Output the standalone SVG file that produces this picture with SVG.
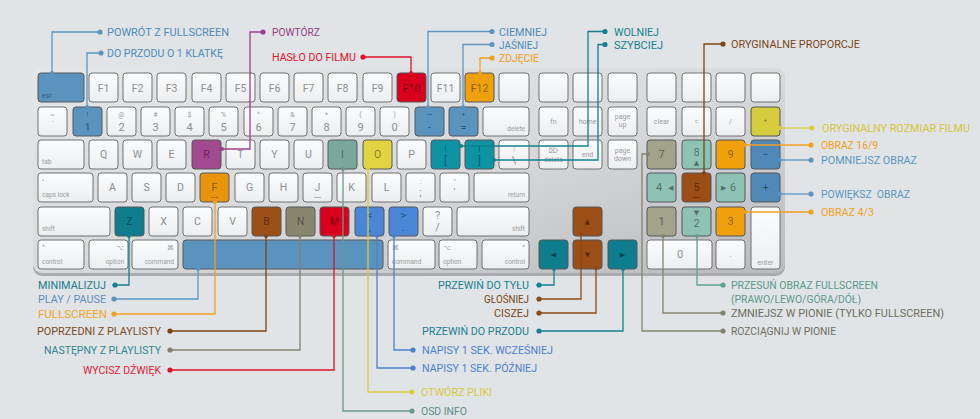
<svg xmlns="http://www.w3.org/2000/svg" width="980" height="419" viewBox="0 0 980 419">
<defs>
<linearGradient id="body" x1="0" y1="0" x2="1" y2="1">
<stop offset="0" stop-color="#e4e6e8"/><stop offset="0.5" stop-color="#d8dadc"/><stop offset="1" stop-color="#b9bbbe"/>
</linearGradient>
<linearGradient id="kg" x1="0" y1="0" x2="0" y2="1">
<stop offset="0" stop-color="#fbfcfd"/><stop offset="1" stop-color="#eceef0"/>
</linearGradient>
</defs>
<style>
.k{fill:url(#kg);stroke:#6f7173;stroke-width:1}
.c{stroke:#55575a;stroke-width:1}
.t{font-family:Roboto,"Liberation Sans",sans-serif;font-size:10.5px;fill:#8d8f92;text-anchor:middle}
.n{font-family:Roboto,"Liberation Sans",sans-serif;font-size:11px;fill:#8d8f92;text-anchor:middle}
.s{font-family:Roboto,"DejaVu Sans",sans-serif;font-size:7px;fill:#9a9c9f;text-anchor:middle}
.m{font-family:Roboto,"Liberation Sans",sans-serif;font-size:6.5px;fill:#9a9c9f}
.e{text-anchor:end}
.g{font-family:"DejaVu Sans",sans-serif;font-size:7px;fill:#9a9c9f}
.d{fill:#000;fill-opacity:0.45}
.l{font-family:Roboto,"Liberation Sans",sans-serif;font-size:11px}
.cn path{fill:none;stroke-width:1.3}
</style>
<rect width="980" height="419" fill="#e1e4e6"/>
<g id="keyboard">
<rect x="33" y="70" width="752" height="206" rx="9" fill="#a9abae"/>
<rect x="33" y="68" width="752" height="205" rx="9" fill="url(#body)"/>
</g>
<g id="keys">
<g id="k-esc"><rect class="c" x="38" y="73" width="46" height="29" rx="3" fill="#5b93bf"/><text class="m d" x="42" y="98">esc</text></g>
<g id="k-f1"><rect class="k" x="89" y="73" width="29" height="29" rx="3"/><text class="t" x="103.5" y="92">F1</text></g>
<g id="k-f2"><rect class="k" x="123" y="73" width="29" height="29" rx="3"/><text class="t" x="137.5" y="92">F2</text></g>
<g id="k-f3"><rect class="k" x="157" y="73" width="29" height="29" rx="3"/><text class="t" x="171.5" y="92">F3</text></g>
<g id="k-f4"><rect class="k" x="192" y="73" width="29" height="29" rx="3"/><text class="t" x="206.5" y="92">F4</text></g>
<g id="k-f5"><rect class="k" x="226" y="73" width="29" height="29" rx="3"/><text class="t" x="240.5" y="92">F5</text></g>
<g id="k-f6"><rect class="k" x="260" y="73" width="29" height="29" rx="3"/><text class="t" x="274.5" y="92">F6</text></g>
<g id="k-f7"><rect class="k" x="294" y="73" width="29" height="29" rx="3"/><text class="t" x="308.5" y="92">F7</text></g>
<g id="k-f8"><rect class="k" x="328" y="73" width="29" height="29" rx="3"/><text class="t" x="342.5" y="92">F8</text></g>
<g id="k-f9"><rect class="k" x="363" y="73" width="29" height="29" rx="3"/><text class="t" x="377.5" y="92">F9</text></g>
<g id="k-f10"><rect class="c" x="397" y="73" width="29" height="29" rx="3" fill="#d8001c"/><text class="t d" x="411.5" y="92">F10</text></g>
<g id="k-f11"><rect class="k" x="431" y="73" width="29" height="29" rx="3"/><text class="t" x="445.5" y="92">F11</text></g>
<g id="k-f12"><rect class="c" x="465" y="73" width="29" height="29" rx="3" fill="#f0a00a"/><text class="t d" x="479.5" y="92">F12</text></g>
<g id="k-f13"><rect class="k" x="499" y="73" width="30" height="29" rx="3"/></g>
<g id="k-n1"><rect class="k" x="539" y="73" width="29" height="29" rx="3"/></g>
<g id="k-n2"><rect class="k" x="573" y="73" width="29" height="29" rx="3"/></g>
<g id="k-n3"><rect class="k" x="608" y="73" width="29" height="29" rx="3"/></g>
<g id="k-p1"><rect class="k" x="647" y="73" width="29" height="29" rx="3"/></g>
<g id="k-p2"><rect class="k" x="682" y="73" width="29" height="29" rx="3"/></g>
<g id="k-p3"><rect class="k" x="716" y="73" width="29" height="29" rx="3"/></g>
<g id="k-p4"><rect class="k" x="751" y="73" width="29" height="29" rx="3"/></g>
<g id="k-tilde"><rect class="k" x="38" y="107" width="29" height="29" rx="3"/><text class="s" x="52.5" y="117">~</text><text class="s" x="52.5" y="127">`</text></g>
<g id="k-1"><rect class="c" x="73" y="107" width="29" height="29" rx="3" fill="#5b93bf"/><text class="s d" x="87.5" y="117">!</text><text class="n d" x="87.5" y="131">1</text></g>
<g id="k-2"><rect class="k" x="107" y="107" width="29" height="29" rx="3"/><text class="s" x="121.5" y="117">@</text><text class="n" x="121.5" y="131">2</text></g>
<g id="k-3"><rect class="k" x="141" y="107" width="29" height="29" rx="3"/><text class="s" x="155.5" y="117">#</text><text class="n" x="155.5" y="131">3</text></g>
<g id="k-4"><rect class="k" x="175" y="107" width="29" height="29" rx="3"/><text class="s" x="189.5" y="117">$</text><text class="n" x="189.5" y="131">4</text></g>
<g id="k-5"><rect class="k" x="209" y="107" width="29" height="29" rx="3"/><text class="s" x="223.5" y="117">%</text><text class="n" x="223.5" y="131">5</text></g>
<g id="k-6"><rect class="k" x="244" y="107" width="29" height="29" rx="3"/><text class="s" x="258.5" y="117">^</text><text class="n" x="258.5" y="131">6</text></g>
<g id="k-7"><rect class="k" x="278" y="107" width="29" height="29" rx="3"/><text class="s" x="292.5" y="117">&amp;</text><text class="n" x="292.5" y="131">7</text></g>
<g id="k-8"><rect class="k" x="312" y="107" width="29" height="29" rx="3"/><text class="s" x="326.5" y="117">*</text><text class="n" x="326.5" y="131">8</text></g>
<g id="k-9"><rect class="k" x="346" y="107" width="29" height="29" rx="3"/><text class="s" x="360.5" y="117">(</text><text class="n" x="360.5" y="131">9</text></g>
<g id="k-0"><rect class="k" x="380" y="107" width="29" height="29" rx="3"/><text class="s" x="394.5" y="117">)</text><text class="n" x="394.5" y="131">0</text></g>
<g id="k-minus"><rect class="c" x="415" y="107" width="29" height="29" rx="3" fill="#5b93bf"/><text class="s d" x="429.5" y="117">—</text><text class="n d" x="429.5" y="131">-</text></g>
<g id="k-equal"><rect class="c" x="449" y="107" width="29" height="29" rx="3" fill="#5b93bf"/><text class="s d" x="463.5" y="117">+</text><text class="n d" x="463.5" y="131">=</text></g>
<g id="k-del"><rect class="k" x="483" y="107" width="46" height="29" rx="3"/><text class="m e" x="525" y="131">delete</text></g>
<g id="k-fn"><rect class="k" x="539" y="107" width="29" height="29" rx="3"/><text class="s" x="553.5" y="124">fn</text></g>
<g id="k-home"><rect class="k" x="573" y="107" width="29" height="29" rx="3"/><text class="s" x="587.5" y="124">home</text></g>
<g id="k-pgup"><rect class="k" x="608" y="107" width="29" height="29" rx="3"/><text class="s" x="622.5" y="119">page</text><text class="s" x="622.5" y="127">up</text></g>
<g id="k-clear"><rect class="k" x="647" y="107" width="29" height="29" rx="3"/><text class="s" x="661.5" y="124">clear</text></g>
<g id="k-peq"><rect class="k" x="682" y="107" width="29" height="29" rx="3"/><text class="s" x="696.5" y="124">=</text></g>
<g id="k-pdiv"><rect class="k" x="716" y="107" width="29" height="29" rx="3"/><text class="s" x="730.5" y="124">/</text></g>
<g id="k-pmul"><rect class="c" x="751" y="107" width="29" height="29" rx="3" fill="#d6cc3c"/><text class="s d" x="765.5" y="124">*</text></g>
<g id="k-tab"><rect class="k" x="38" y="140" width="46" height="29" rx="3"/><text class="m" x="42" y="164">tab</text></g>
<g id="k-q"><rect class="k" x="89" y="140" width="29" height="29" rx="3"/><text class="t" x="103.5" y="158">Q</text></g>
<g id="k-w"><rect class="k" x="123" y="140" width="29" height="29" rx="3"/><text class="t" x="137.5" y="158">W</text></g>
<g id="k-e"><rect class="k" x="157" y="140" width="29" height="29" rx="3"/><text class="t" x="171.5" y="158">E</text></g>
<g id="k-r"><rect class="c" x="192" y="140" width="29" height="29" rx="3" fill="#a3498f"/><text class="t d" x="206.5" y="158">R</text></g>
<g id="k-t"><rect class="k" x="226" y="140" width="29" height="29" rx="3"/><text class="t" x="240.5" y="158">T</text></g>
<g id="k-y"><rect class="k" x="260" y="140" width="29" height="29" rx="3"/><text class="t" x="274.5" y="158">Y</text></g>
<g id="k-u"><rect class="k" x="294" y="140" width="29" height="29" rx="3"/><text class="t" x="308.5" y="158">U</text></g>
<g id="k-i"><rect class="c" x="328" y="140" width="29" height="29" rx="3" fill="#7ca89c"/><text class="t d" x="342.5" y="158">I</text></g>
<g id="k-o"><rect class="c" x="363" y="140" width="29" height="29" rx="3" fill="#e2d440"/><text class="t d" x="377.5" y="158">O</text></g>
<g id="k-p"><rect class="k" x="397" y="140" width="29" height="29" rx="3"/><text class="t" x="411.5" y="158">P</text></g>
<g id="k-lbr"><rect class="c" x="431" y="140" width="29" height="29" rx="3" fill="#0e93a4"/><text class="s d" x="445.5" y="151">{</text><text class="n d" x="445.5" y="164">[</text></g>
<g id="k-rbr"><rect class="c" x="465" y="140" width="29" height="29" rx="3" fill="#0e93a4"/><text class="s d" x="479.5" y="151">}</text><text class="n d" x="479.5" y="164">]</text></g>
<g id="k-bsl"><rect class="k" x="499" y="140" width="30" height="29" rx="3"/><text class="s" x="514" y="151">|</text><text class="n" x="514" y="164">\</text></g>
<g id="k-fdel"><rect class="k" x="539" y="140" width="29" height="29" rx="3"/><text class="g" x="553.5" y="153" text-anchor="middle">⌦</text><text class="s" x="553.5" y="162">delete</text></g>
<g id="k-end"><rect class="k" x="573" y="140" width="29" height="29" rx="3"/><text class="s" x="587.5" y="157">end</text></g>
<g id="k-pgdn"><rect class="k" x="608" y="140" width="29" height="29" rx="3"/><text class="s" x="622.5" y="153">page</text><text class="s" x="622.5" y="161">down</text></g>
<g id="k-p7"><rect class="c" x="647" y="140" width="29" height="29" rx="3" fill="#a3a28b"/><text class="n d" x="661.5" y="158">7</text></g>
<g id="k-p8"><rect class="c" x="682" y="140" width="29" height="29" rx="3" fill="#8ec3b4"/><text class="n d" x="696.5" y="156">8</text><text class="g d" x="696.5" y="165" text-anchor="middle" font-size="5">▲</text></g>
<g id="k-p9"><rect class="c" x="716" y="140" width="29" height="29" rx="3" fill="#f0a00a"/><text class="n d" x="730.5" y="158">9</text></g>
<g id="k-pminus"><rect class="c" x="751" y="140" width="29" height="29" rx="3" fill="#5089b8"/><text class="n d" x="765.5" y="158">−</text></g>
<g id="k-caps"><rect class="k" x="38" y="173" width="55" height="29" rx="3"/><text class="m" x="42" y="183">•</text><text class="m" x="42" y="197">caps lock</text></g>
<g id="k-a"><rect class="k" x="98" y="173" width="29" height="29" rx="3"/><text class="t" x="112.5" y="191">A</text></g>
<g id="k-s"><rect class="k" x="132" y="173" width="29" height="29" rx="3"/><text class="t" x="146.5" y="191">S</text></g>
<g id="k-d"><rect class="k" x="166" y="173" width="29" height="29" rx="3"/><text class="t" x="180.5" y="191">D</text></g>
<g id="k-f"><rect class="c" x="200" y="173" width="29" height="29" rx="3" fill="#e8950c"/><text class="t d" x="214.5" y="191">F</text><rect x="211" y="197" width="7" height="1" fill="#000" fill-opacity="0.25"/></g>
<g id="k-g"><rect class="k" x="235" y="173" width="29" height="29" rx="3"/><text class="t" x="249.5" y="191">G</text></g>
<g id="k-h"><rect class="k" x="269" y="173" width="29" height="29" rx="3"/><text class="t" x="283.5" y="191">H</text></g>
<g id="k-j"><rect class="k" x="303" y="173" width="29" height="29" rx="3"/><text class="t" x="317.5" y="191">J</text><rect x="314" y="197" width="7" height="1" fill="#b5b7b9"/></g>
<g id="k-k"><rect class="k" x="337" y="173" width="29" height="29" rx="3"/><text class="t" x="351.5" y="191">K</text></g>
<g id="k-l"><rect class="k" x="372" y="173" width="29" height="29" rx="3"/><text class="t" x="386.5" y="191">L</text></g>
<g id="k-semi"><rect class="k" x="406" y="173" width="29" height="29" rx="3"/><text class="s" x="420.5" y="184">:</text><text class="n" x="420.5" y="196">;</text></g>
<g id="k-quote"><rect class="k" x="440" y="173" width="29" height="29" rx="3"/><text class="s" x="454.5" y="184">"</text><text class="n" x="454.5" y="196">'</text></g>
<g id="k-ret"><rect class="k" x="474" y="173" width="55" height="29" rx="3"/><text class="m e" x="525" y="197">return</text></g>
<g id="k-p4k"><rect class="c" x="647" y="173" width="29" height="29" rx="3" fill="#8ec3b4"/><text class="n d" x="659" y="191">4</text><text class="g d" x="668" y="190" font-size="5">◀</text></g>
<g id="k-p5"><rect class="c" x="682" y="173" width="29" height="29" rx="3" fill="#9b4f16"/><text class="n d" x="696.5" y="191">5</text><rect x="693" y="197" width="7" height="1" fill="#000" fill-opacity="0.3"/></g>
<g id="k-p6"><rect class="c" x="716" y="173" width="29" height="29" rx="3" fill="#8ec3b4"/><text class="g d" x="721" y="190" font-size="5">▶</text><text class="n d" x="733" y="191">6</text></g>
<g id="k-pplus"><rect class="c" x="751" y="173" width="29" height="29" rx="3" fill="#5089b8"/><text class="n d" x="765.5" y="191">+</text></g>
<g id="k-lshift"><rect class="k" x="38" y="207" width="72" height="29" rx="3"/><text class="m" x="42" y="231">shift</text></g>
<g id="k-z"><rect class="c" x="115" y="207" width="29" height="29" rx="3" fill="#0e7d8d"/><text class="t d" x="129.5" y="225">Z</text></g>
<g id="k-x"><rect class="k" x="149" y="207" width="29" height="29" rx="3"/><text class="t" x="163.5" y="225">X</text></g>
<g id="k-c"><rect class="k" x="183" y="207" width="29" height="29" rx="3"/><text class="t" x="197.5" y="225">C</text></g>
<g id="k-v"><rect class="k" x="218" y="207" width="29" height="29" rx="3"/><text class="t" x="232.5" y="225">V</text></g>
<g id="k-b"><rect class="c" x="252" y="207" width="29" height="29" rx="3" fill="#9b5017"/><text class="t d" x="266.5" y="225">B</text></g>
<g id="k-nk"><rect class="c" x="286" y="207" width="29" height="29" rx="3" fill="#898670"/><text class="t d" x="300.5" y="225">N</text></g>
<g id="k-mk"><rect class="c" x="320" y="207" width="29" height="29" rx="3" fill="#d8001c"/><text class="t d" x="334.5" y="225">M</text></g>
<g id="k-lt"><rect class="c" x="355" y="207" width="29" height="29" rx="3" fill="#4b86d6"/><text class="n d" x="369.5" y="219">&lt;</text><text class="n d" x="369.5" y="231">,</text></g>
<g id="k-gt"><rect class="c" x="389" y="207" width="29" height="29" rx="3" fill="#4b86d6"/><text class="n d" x="403.5" y="219">&gt;</text><text class="n d" x="403.5" y="231">.</text></g>
<g id="k-slash"><rect class="k" x="423" y="207" width="29" height="29" rx="3"/><text class="n" x="437.5" y="219">?</text><text class="n" x="437.5" y="231">/</text></g>
<g id="k-rshift"><rect class="k" x="457" y="207" width="72" height="29" rx="3"/><text class="m e" x="525" y="231">shift</text></g>
<g id="k-up"><rect class="c" x="573" y="207" width="29" height="29" rx="3" fill="#9b4f16"/><text class="g d" x="587.5" y="224" text-anchor="middle" font-size="6">▲</text></g>
<g id="k-p1k"><rect class="c" x="647" y="207" width="29" height="29" rx="3" fill="#a3a28b"/><text class="n d" x="661.5" y="225">1</text></g>
<g id="k-p2k"><rect class="c" x="682" y="207" width="29" height="29" rx="3" fill="#8ec3b4"/><text class="g d" x="696.5" y="215" text-anchor="middle" font-size="5">▼</text><text class="n d" x="696.5" y="227">2</text></g>
<g id="k-p3k"><rect class="c" x="716" y="207" width="29" height="29" rx="3" fill="#f0a00a"/><text class="n d" x="730.5" y="225">3</text></g>
<g id="k-enter"><rect class="k" x="751" y="207" width="29" height="62" rx="3"/><text class="s" x="765.5" y="265">enter</text></g>
<g id="k-lctrl"><rect class="k" x="38" y="240" width="46" height="29" rx="3"/><text class="m" x="42" y="250">^</text><text class="m" x="42" y="264">control</text></g>
<g id="k-lopt"><rect class="k" x="89" y="240" width="39" height="29" rx="3"/><text class="g e" x="124" y="250">⌥</text><text class="m e" x="124" y="264">option</text></g>
<g id="k-lcmd"><rect class="k" x="132" y="240" width="46" height="29" rx="3"/><text class="g e" x="174" y="250">⌘</text><text class="m e" x="174" y="264">command</text></g>
<g id="k-space"><rect class="c" x="183" y="240" width="200" height="29" rx="3" fill="#5b93bf"/></g>
<g id="k-rcmd"><rect class="k" x="388" y="240" width="47" height="29" rx="3"/><text class="g" x="392" y="250">⌘</text><text class="m" x="392" y="264">command</text></g>
<g id="k-ropt"><rect class="k" x="439" y="240" width="38" height="29" rx="3"/><text class="g" x="443" y="250">⌥</text><text class="m" x="443" y="264">option</text></g>
<g id="k-rctrl"><rect class="k" x="482" y="240" width="47" height="29" rx="3"/><text class="m e" x="525" y="250">^</text><text class="m e" x="525" y="264">control</text></g>
<g id="k-left"><rect class="c" x="539" y="240" width="29" height="29" rx="3" fill="#0e7d8d"/><text class="g d" x="553.5" y="257" text-anchor="middle" font-size="6">◀</text></g>
<g id="k-down"><rect class="c" x="573" y="240" width="29" height="29" rx="3" fill="#9b4f16"/><text class="g d" x="587.5" y="257" text-anchor="middle" font-size="6">▼</text></g>
<g id="k-right"><rect class="c" x="608" y="240" width="29" height="29" rx="3" fill="#0e7d8d"/><text class="g d" x="622.5" y="257" text-anchor="middle" font-size="6">▶</text></g>
<g id="k-p0"><rect class="k" x="647" y="240" width="65" height="29" rx="3"/><text class="n" x="680" y="258">0</text></g>
<g id="k-pdot"><rect class="k" x="716" y="240" width="29" height="29" rx="3"/><text class="s" x="730.5" y="257">.</text></g>
</g>
<g id="connectors" class="cn">
<path d="M100,32 H52 V73" stroke="#5b95c0"/>
<path d="M101,53 H87 V107" stroke="#5b95c0"/>
<path d="M263,32 H250 V149 H222" stroke="#9c3f8a"/>
<path d="M363,57 H411 V73" stroke="#e0102a"/>
<path d="M492,31.5 H428 V107" stroke="#5b95c0"/>
<path d="M492,44.5 H463 V107" stroke="#5b95c0"/>
<path d="M492,58 H480 V73" stroke="#f0a020"/>
<path d="M605,31.5 H588 V146 H461" stroke="#12808f"/>
<path d="M605,44.5 H598 V160 H494" stroke="#12808f"/>
<path d="M723,44 H704 V173" stroke="#7c4414"/>
<path d="M812,128 H780" stroke="#d8cc40"/>
<path d="M811,145 H745" stroke="#f0a020"/>
<path d="M811,160 H780" stroke="#5b95c0"/>
<path d="M811,194 H780" stroke="#5b95c0"/>
<path d="M811,212 H745" stroke="#f0a020"/>
<path d="M115,285 H129 V236" stroke="#12808f"/>
<path d="M114,299 H198 V269" stroke="#5b95c0"/>
<path d="M114,314 H215 V202" stroke="#f0a020"/>
<path d="M170,331 H266 V236" stroke="#7c4414"/>
<path d="M170,350 H300 V236" stroke="#858370"/>
<path d="M170,370 H334 V236" stroke="#e0102a"/>
<path d="M539,285 H554 V269" stroke="#12808f"/>
<path d="M539,299 H581 V234" stroke="#8a4a16"/>
<path d="M539,313 H596 V268" stroke="#8a4a16"/>
<path d="M539,331 H623 V269" stroke="#12808f"/>
<path d="M413,350 H394 V236" stroke="#4a80d4"/>
<path d="M413,368 H377 V236" stroke="#4a80d4"/>
<path d="M412,392 H368 V169" stroke="#d8cc40"/>
<path d="M412,411 H343 V169" stroke="#6b978b"/>
<path d="M723,285 H697 V236" stroke="#5fa090"/>
<path d="M723,313 H663 V236" stroke="#858370"/>
<path d="M723,331 H642 V154 H648" stroke="#858370"/>
<g id="dots">
<circle cx="100" cy="32" r="2.6" fill="#5b95c0"/><circle cx="52" cy="73" r="2" fill="#5b95c0"/>
<circle cx="101" cy="53" r="2.6" fill="#5b95c0"/><circle cx="87" cy="107" r="2" fill="#5b95c0"/>
<circle cx="263" cy="32" r="2.6" fill="#9c3f8a"/><circle cx="222" cy="149" r="2" fill="#9c3f8a"/>
<circle cx="363" cy="57" r="2.6" fill="#e0102a"/><circle cx="411" cy="73" r="2" fill="#e0102a"/>
<circle cx="492" cy="31.5" r="2.6" fill="#5b95c0"/><circle cx="428" cy="107" r="2" fill="#5b95c0"/>
<circle cx="492" cy="44.5" r="2.6" fill="#5b95c0"/><circle cx="463" cy="107" r="2" fill="#5b95c0"/>
<circle cx="492" cy="58" r="2.6" fill="#f0a020"/><circle cx="480" cy="73" r="2" fill="#f0a020"/>
<circle cx="605" cy="31.5" r="2.6" fill="#12808f"/><circle cx="461" cy="146" r="2" fill="#12808f"/>
<circle cx="605" cy="44.5" r="2.6" fill="#12808f"/><circle cx="494" cy="160" r="2" fill="#12808f"/>
<circle cx="723" cy="44" r="2.6" fill="#7c4414"/><circle cx="704" cy="173" r="2" fill="#7c4414"/>
<circle cx="812" cy="128" r="2.6" fill="#d8cc40"/><circle cx="780" cy="128" r="2" fill="#d8cc40"/>
<circle cx="811" cy="145" r="2.6" fill="#f0a020"/><circle cx="745" cy="145" r="2" fill="#f0a020"/>
<circle cx="811" cy="160" r="2.6" fill="#5b95c0"/><circle cx="780" cy="160" r="2" fill="#5b95c0"/>
<circle cx="811" cy="194" r="2.6" fill="#5b95c0"/><circle cx="780" cy="194" r="2" fill="#5b95c0"/>
<circle cx="811" cy="212" r="2.6" fill="#f0a020"/><circle cx="745" cy="212" r="2" fill="#f0a020"/>
<circle cx="115" cy="285" r="2.6" fill="#12808f"/><circle cx="129" cy="236" r="2" fill="#12808f"/>
<circle cx="114" cy="299" r="2.6" fill="#5b95c0"/><circle cx="198" cy="269" r="2" fill="#5b95c0"/>
<circle cx="114" cy="314" r="2.6" fill="#f0a020"/><circle cx="215" cy="202" r="2" fill="#f0a020"/>
<circle cx="170" cy="331" r="2.6" fill="#7c4414"/><circle cx="266" cy="236" r="2" fill="#7c4414"/>
<circle cx="170" cy="350" r="2.6" fill="#858370"/><circle cx="300" cy="236" r="2" fill="#858370"/>
<circle cx="170" cy="370" r="2.6" fill="#e0102a"/><circle cx="334" cy="236" r="2" fill="#e0102a"/>
<circle cx="539" cy="285" r="2.6" fill="#12808f"/><circle cx="554" cy="269" r="2" fill="#12808f"/>
<circle cx="539" cy="299" r="2.6" fill="#8a4a16"/><circle cx="581" cy="234" r="2" fill="#8a4a16"/>
<circle cx="539" cy="313" r="2.6" fill="#8a4a16"/><circle cx="596" cy="268" r="2" fill="#8a4a16"/>
<circle cx="539" cy="331" r="2.6" fill="#12808f"/><circle cx="623" cy="269" r="2" fill="#12808f"/>
<circle cx="413" cy="350" r="2.6" fill="#4a80d4"/><circle cx="394" cy="236" r="2" fill="#4a80d4"/>
<circle cx="413" cy="368" r="2.6" fill="#4a80d4"/><circle cx="377" cy="236" r="2" fill="#4a80d4"/>
<circle cx="412" cy="392" r="2.6" fill="#d8cc40"/><circle cx="368" cy="169" r="2" fill="#d8cc40"/>
<circle cx="412" cy="411" r="2.6" fill="#6b978b"/><circle cx="343" cy="169" r="2" fill="#6b978b"/>
<circle cx="723" cy="285" r="2.6" fill="#5fa090"/><circle cx="697" cy="236" r="2" fill="#5fa090"/>
<circle cx="723" cy="313" r="2.6" fill="#858370"/><circle cx="663" cy="236" r="2" fill="#858370"/>
<circle cx="723" cy="331" r="2.6" fill="#858370"/><circle cx="648" cy="154" r="2" fill="#858370"/>
</g>
</g>
<g id="labels" class="l">
<g id="l-powrot"><text x="107" y="36" fill="#4d8ab8" textLength="122" lengthAdjust="spacingAndGlyphs">POWRÓT Z FULLSCREEN</text></g>
<g id="l-klatka"><text x="107" y="57" fill="#4d8ab8" textLength="116" lengthAdjust="spacingAndGlyphs">DO PRZODU O 1 KLATKĘ</text></g>
<g id="l-powtorz"><text x="272" y="36" fill="#9a3a82" textLength="48" lengthAdjust="spacingAndGlyphs">POWTÓRZ</text></g>
<g id="l-haslo"><text x="272" y="61" fill="#e0102a" textLength="84" lengthAdjust="spacingAndGlyphs">HASŁO DO FILMU</text></g>
<g id="l-ciemniej"><text x="499" y="35.5" fill="#4d8ab8" textLength="48" lengthAdjust="spacingAndGlyphs">CIEMNIEJ</text></g>
<g id="l-jasniej"><text x="499" y="48.5" fill="#4d8ab8" textLength="39" lengthAdjust="spacingAndGlyphs">JAŚNIEJ</text></g>
<g id="l-zdjecie"><text x="499" y="62" fill="#f0a020" textLength="40" lengthAdjust="spacingAndGlyphs">ZDJĘCIE</text></g>
<g id="l-wolniej"><text x="614" y="35.5" fill="#12808f" textLength="45" lengthAdjust="spacingAndGlyphs">WOLNIEJ</text></g>
<g id="l-szybciej"><text x="614" y="48.5" fill="#12808f" textLength="49" lengthAdjust="spacingAndGlyphs">SZYBCIEJ</text></g>
<g id="l-proporcje"><text x="731" y="48" fill="#7a4418" textLength="129" lengthAdjust="spacingAndGlyphs">ORYGINALNE PROPORCJE</text></g>
<g id="l-rozmiar"><text x="822" y="132" fill="#d4c43a" textLength="148" lengthAdjust="spacingAndGlyphs">ORYGINALNY ROZMIAR FILMU</text></g>
<g id="l-169"><text x="821" y="149" fill="#f0a020" textLength="57" lengthAdjust="spacingAndGlyphs">OBRAZ 16/9</text></g>
<g id="l-pomniejsz"><text x="821" y="164" fill="#5b95c0" textLength="96" lengthAdjust="spacingAndGlyphs">POMNIEJSZ OBRAZ</text></g>
<g id="l-powieksz"><text x="821" y="198" fill="#5b95c0" textLength="89" lengthAdjust="spacingAndGlyphs" xml:space="preserve">POWIĘKSZ  OBRAZ</text></g>
<g id="l-43"><text x="821" y="216" fill="#f0a020" textLength="53" lengthAdjust="spacingAndGlyphs">OBRAZ 4/3</text></g>
<g id="l-minimalizuj"><text x="106" y="289" fill="#1a7c8a" text-anchor="end" textLength="68" lengthAdjust="spacingAndGlyphs">MINIMALIZUJ</text></g>
<g id="l-play"><text x="106" y="303" fill="#5b8fba" text-anchor="end" textLength="68" lengthAdjust="spacingAndGlyphs">PLAY / PAUSE</text></g>
<g id="l-fullscreen"><text x="107" y="318" fill="#f0a428" text-anchor="end" textLength="69" lengthAdjust="spacingAndGlyphs">FULLSCREEN</text></g>
<g id="l-poprzedni"><text x="161" y="335" fill="#7a4a22" text-anchor="end" textLength="124" lengthAdjust="spacingAndGlyphs">POPRZEDNI Z PLAYLISTY</text></g>
<g id="l-nastepny"><text x="161" y="354" fill="#2e8690" text-anchor="end" textLength="117" lengthAdjust="spacingAndGlyphs">NASTĘPNY Z PLAYLISTY</text></g>
<g id="l-wycisz"><text x="161" y="374" fill="#e0203a" text-anchor="end" textLength="78" lengthAdjust="spacingAndGlyphs">WYCISZ DŹWIĘK</text></g>
<g id="l-tylu"><text x="529" y="289" fill="#1a8090" text-anchor="end" textLength="91" lengthAdjust="spacingAndGlyphs">PRZEWIŃ DO TYŁU</text></g>
<g id="l-glosniej"><text x="529" y="303" fill="#7a4418" text-anchor="end" textLength="45" lengthAdjust="spacingAndGlyphs">GŁOŚNIEJ</text></g>
<g id="l-ciszej"><text x="529" y="317" fill="#7a4418" text-anchor="end" textLength="35" lengthAdjust="spacingAndGlyphs">CISZEJ</text></g>
<g id="l-przodu"><text x="529" y="335" fill="#1a8090" text-anchor="end" textLength="107" lengthAdjust="spacingAndGlyphs">PRZEWIŃ DO PRZODU</text></g>
<g id="l-wczesniej"><text x="422" y="354" fill="#4a7fcf" textLength="131" lengthAdjust="spacingAndGlyphs">NAPISY 1 SEK. WCZEŚNIEJ</text></g>
<g id="l-pozniej"><text x="422" y="372" fill="#4a7fcf" textLength="115" lengthAdjust="spacingAndGlyphs">NAPISY 1 SEK. PÓŹNIEJ</text></g>
<g id="l-otworz"><text x="421" y="396" fill="#d6c840" textLength="71" lengthAdjust="spacingAndGlyphs">OTWÓRZ PLIKI</text></g>
<g id="l-osd"><text x="421" y="415" fill="#5d8c82" textLength="46" lengthAdjust="spacingAndGlyphs">OSD INFO</text></g>
<g id="l-przesun"><text x="731" y="289" fill="#5a9a8a" textLength="147" lengthAdjust="spacingAndGlyphs">PRZESUŃ OBRAZ FULLSCREEN</text><text x="731" y="303" fill="#5a9a8a" textLength="130" lengthAdjust="spacingAndGlyphs">(PRAWO/LEWO/GÓRA/DÓŁ)</text></g>
<g id="l-zmniejsz"><text x="731" y="317" fill="#6e6d60" textLength="213" lengthAdjust="spacingAndGlyphs">ZMNIEJSZ W PIONIE (TYLKO FULLSCREEN)</text></g>
<g id="l-rozciagnij"><text x="731" y="335" fill="#6e6d60" textLength="105" lengthAdjust="spacingAndGlyphs">ROZCIĄGNIJ W PIONIE</text></g>
</g>
</svg>
